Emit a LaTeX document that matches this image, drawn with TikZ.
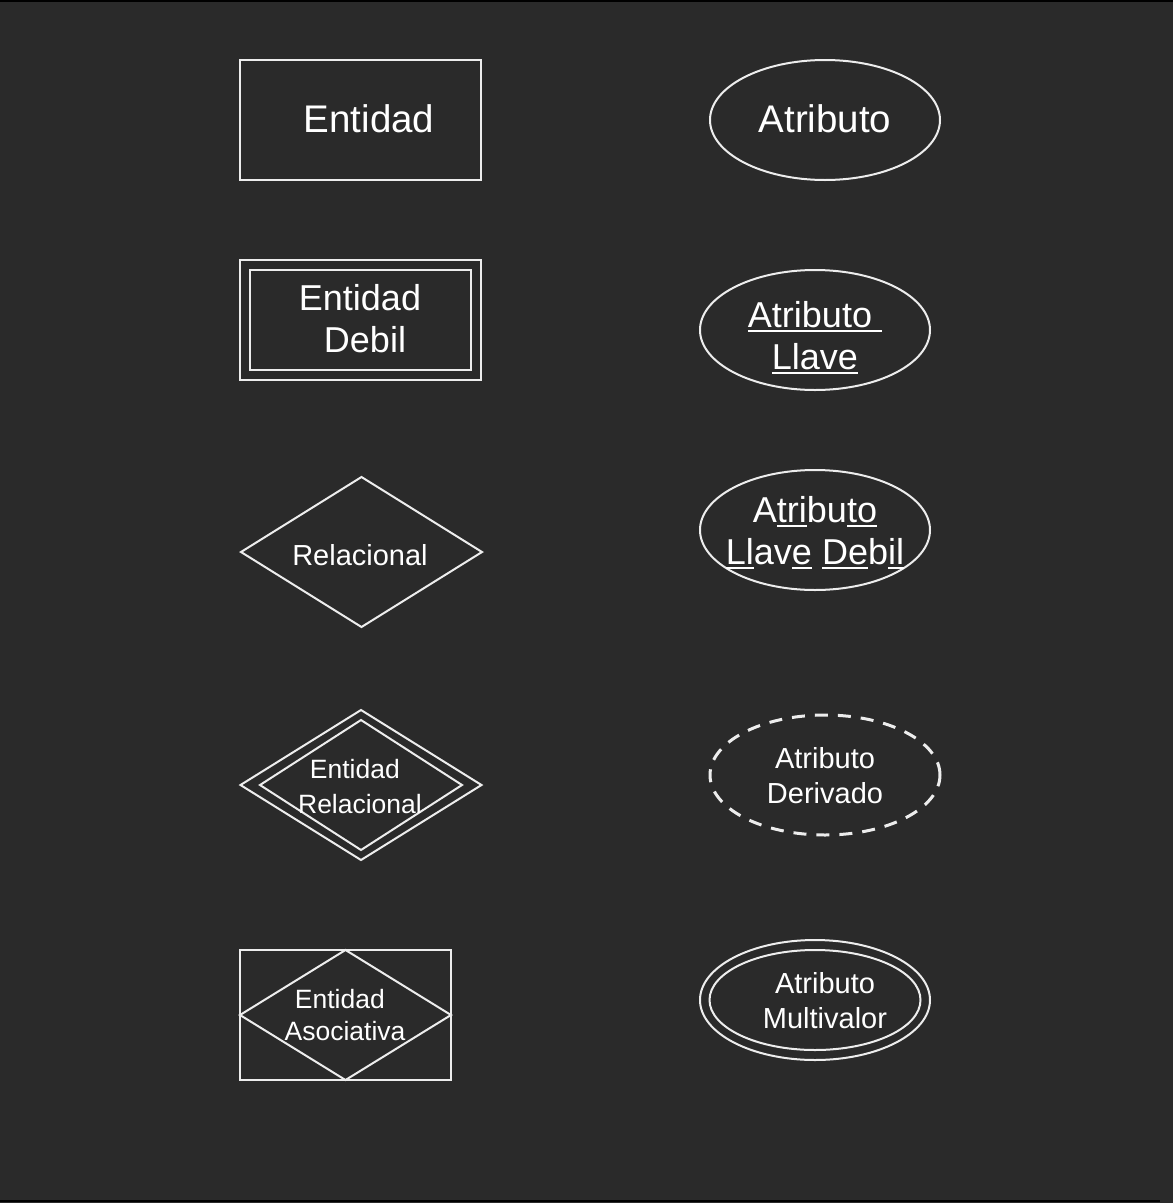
\documentclass[tikz,border=0pt]{standalone}
\usepackage{fontspec}
\setmainfont{Liberation Sans}
\usetikzlibrary{shapes.geometric}

\definecolor{canvas}{HTML}{2A2A2A}
\definecolor{edge}{HTML}{EDEDED}

% underline a piece of text without changing its box height/depth
\newcommand\undl[1]{\setbox0\hbox{#1}\rlap{\raisebox{-4.2pt}[0pt][0pt]{\rule{\wd0}{2.2pt}}}\box0\relax}

\tikzset{
  shapeline/.style={draw=edge, line width=2pt, inner sep=0pt, outer sep=0pt},
  entbox/.style={shapeline, rectangle, minimum width=#1},
  attr/.style={shapeline, ellipse, minimum width=230pt, minimum height=120pt},
  rel/.style={shapeline, diamond, minimum width=241pt, minimum height=150pt},
  lbl/.style={text=white, align=center, inner sep=0pt},
  big/.style={lbl, font=\fontsize{38.5}{44}\selectfont},
  mid/.style={lbl, font=\fontsize{36}{42}\selectfont},
  small/.style={lbl, font=\fontsize{29}{35}\selectfont},
  tiny/.style={lbl, font=\fontsize{26.5}{35}\selectfont},
}

\begin{document}
\begin{tikzpicture}[x=1pt, y=-1pt]
  % canvas
  \fill[canvas] (0,0) rectangle (1173,1203);
  \useasboundingbox (0,0) rectangle (1173,1203);
  \draw[black, line width=2pt] (0,1) -- (1173,1);
  \draw[black, line width=2pt] (0,1200.5) -- (1160,1200.5);

  % ---- left column: entities and relationships ----
  \node[entbox=241pt, minimum height=120pt] (ent) at (360.5,120) {};
  \node[big] (entT) at (369,119) {Entidad};

  \node[entbox=241pt, minimum height=120pt] (weakO) at (360.5,320) {};
  \node[entbox=221pt, minimum height=100pt] (weakI) at (360.5,320) {};
  \node[mid] (weakT) at (360,319) {Entidad\\\hphantom{\ }Debil};

  \node[rel] (relac) at (361.5,552) {};
  \node[small] (relacT) at (360,555) {Relacional};

  \node[rel] (wrelO) at (361,785) {};
  \node[shapeline, diamond, minimum width=202pt, minimum height=130pt] (wrelI) at (361,785) {};
  \node[tiny] (wrelT) at (360,786.5) {Entidad\hphantom{i\,}\\Relacional};

  \node[entbox=211pt, minimum height=130pt] (assocR) at (345.5,1015) {};
  \node[shapeline, diamond, minimum width=211pt, minimum height=130pt] (assocD) at (345.5,1015) {};
  \node[lbl, font=\fontsize{26.5}{32}\selectfont] (assocT) at (345,1015) {Entidad\hphantom{i\,}\\Asociativa};

  % ---- right column: attributes ----
  \node[attr] (atr) at (825,120) {};
  \node[big] (atrT) at (825,119) {Atributo};

  \node[attr] (key) at (815,330) {};
  \node[mid] (keyT) at (815,336) {\undl{Atributo }\\\undl{Llave}};

  \node[attr] (wkey) at (815,530) {};
  \node[mid] (wkeyT) at (815,531) {A\undl{tri}bu\undl{to}\\\undl{Ll}av\undl{e} \undl{De}b\undl{il}};

  \node[attr, line width=3pt, dash pattern=on 13pt off 10pt] (der) at (825,775) {};
  \node[small] (derT) at (825,776) {Atributo\\Derivado};

  \node[attr] (multO) at (815,1000) {};
  \node[shapeline, ellipse, minimum width=211pt, minimum height=100pt] (multI) at (815,1000) {};
  \node[small] (multT) at (825,1001) {Atributo\\Multivalor};
\end{tikzpicture}
\end{document}
